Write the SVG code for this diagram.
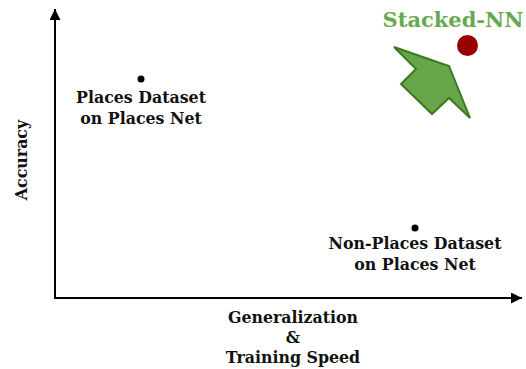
<svg xmlns="http://www.w3.org/2000/svg" width="526" height="369" viewBox="0 0 526 369">
<style>
.t{font-family:"DejaVu Serif","Liberation Serif",serif;font-weight:bold;font-size:15.8px;fill:#111;text-anchor:middle}
.ax{stroke:#000;stroke-width:2;fill:none}
</style>
<defs>
<marker id="ah2" viewBox="0 0 10 10" refX="10" refY="5" markerWidth="11" markerHeight="11" markerUnits="userSpaceOnUse" orient="auto"><path d="M0,0 L10,5 L0,10 z" fill="#000"/></marker>
</defs>
<rect width="526" height="369" fill="#fff"/>
<g id="connectors">
<path class="ax" d="M55,298 L55,9" marker-end="url(#ah2)"/>
<path class="ax" d="M54,298 L522,298" marker-end="url(#ah2)"/>
<polygon id="green-arrow" points="394,47 449,66 470,118 449,98 432,114 401,84 416,69" fill="#67a54a" stroke="#3d7a1f" stroke-width="2" stroke-linejoin="miter"/>
</g>
<g id="stacked-nn">
<circle cx="467.5" cy="45.5" r="10.5" fill="#990000"/>
<text class="t" x="453" y="27" style="font-size:21px;fill:#6aa84f">Stacked-NN</text>
</g>
<g id="places">
<circle cx="141" cy="79" r="3.5" fill="#000"/>
<text class="t" x="141" y="103">Places Dataset</text>
<text class="t" x="141" y="124">on Places Net</text>
</g>
<g id="nonplaces">
<circle cx="415" cy="228" r="3.5" fill="#000"/>
<text class="t" x="415" y="249">Non-Places Dataset</text>
<text class="t" x="415" y="270">on Places Net</text>
</g>
<g id="axis-labels">
<text class="t" transform="translate(27,160) rotate(-90)">Accuracy</text>
<text class="t" x="293" y="323">Generalization</text>
<text class="t" x="293" y="343">&amp;</text>
<text class="t" x="293" y="363">Training Speed</text>
</g>
</svg>
